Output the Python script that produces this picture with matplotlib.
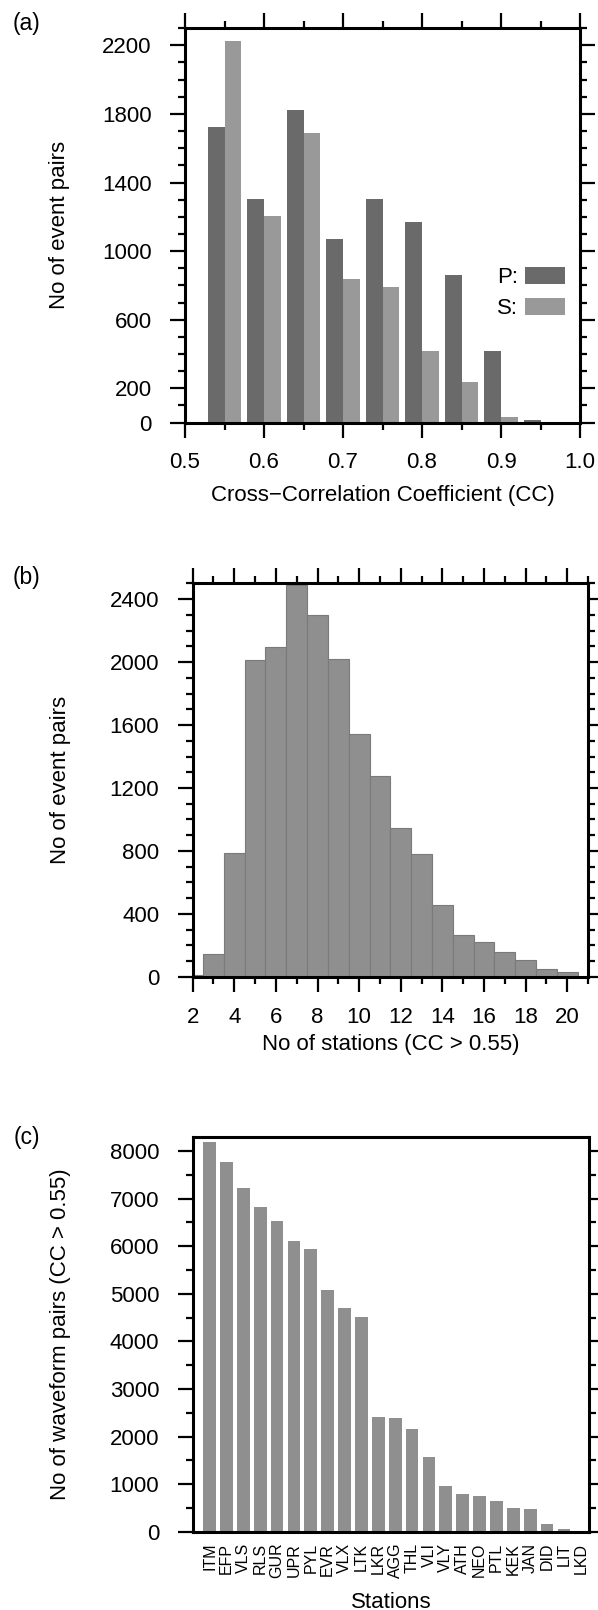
import matplotlib
matplotlib.use("Agg")
import matplotlib.pyplot as plt
from matplotlib.ticker import MultipleLocator, FixedLocator

plt.rcParams["font.family"] = ["Liberation Sans", "DejaVu Sans"]
plt.rcParams["font.size"] = 16

# (a) number of event pairs per CC bin, P and S phases
cc_bins = [0.55, 0.60, 0.65, 0.70, 0.75, 0.80, 0.85, 0.90, 0.95, 1.00]
p_counts = [1725, 1303, 1822, 1070, 1303, 1172, 862, 415, 18, 5]
s_counts = [2227, 1207, 1691, 835, 793, 418, 236, 33, 4, 0]

# (b) event pairs vs number of stations with CC > 0.55
n_stations = list(range(2, 21))
pair_counts = [15, 145, 790, 2010, 2095, 2490, 2300, 2020, 1540, 1275,
               948, 780, 460, 267, 222, 157, 110, 53, 33]

# (c) waveform pairs per station
stations = ["ITM", "EFP", "VLS", "RLS", "GUR", "UPR", "PYL", "EVR", "VLX",
            "LTK", "LKR", "AGG", "THL", "VLI", "VLY", "ATH", "NEO", "PTL",
            "KEK", "JAN", "DID", "LIT", "LKD"]
waveform_pairs = [8200, 7760, 7215, 6830, 6520, 6100, 5940, 5090, 4700,
                  4510, 2420, 2400, 2160, 1570, 960, 785, 752, 645,
                  490, 470, 172, 62, 10]

P_COLOR = "#6a6a6a"
S_COLOR = "#999999"
BAR_COLOR = "#8f8f8f"


def style_axes(ax, top=True):
    for s in ax.spines.values():
        s.set_linewidth(2.2)
    ax.tick_params(which="both", direction="out", width=1.6,
                   top=top, right=True, labelsize=16)
    ax.tick_params(which="major", length=10.5)
    ax.tick_params(which="minor", length=5)
    ax.tick_params(axis="y", pad=13.5)
    ax.tick_params(axis="x", pad=11)


fig = plt.figure(figsize=(5.98, 16.10), dpi=100)

# ---- (a)
ax_a = fig.add_axes([0.3094, 0.7375, 0.6605, 0.2450])
w = 0.021
ax_a.bar([c - w / 2 for c in cc_bins], p_counts, width=w, color=P_COLOR, label="P:")
ax_a.bar([c + w / 2 for c in cc_bins], s_counts, width=w, color=S_COLOR, label="S:")
ax_a.set_xlim(0.5, 1.0)
ax_a.set_ylim(0, 2300)
ax_a.xaxis.set_major_locator(MultipleLocator(0.1))
ax_a.xaxis.set_minor_locator(MultipleLocator(0.05))
ax_a.xaxis.set_major_formatter(plt.FormatStrFormatter("%.1f"))
ax_a.yaxis.set_major_locator(FixedLocator([0, 200, 600, 1000, 1400, 1800, 2200]))
ax_a.yaxis.set_minor_locator(MultipleLocator(100))
style_axes(ax_a)
ax_a.set_xlabel("Cross\u2212Correlation Coefficient (CC)")
ax_a.xaxis.set_label_coords(0.5, -0.158)
ax_a.set_ylabel("No of event pairs")
ax_a.yaxis.set_label_coords(-0.29, 0.5)
ax_a.legend(loc="center right", bbox_to_anchor=(0.962, 0.3276), frameon=False,
            markerfirst=False, handlelength=1.8, handleheight=0.77,
            handletextpad=0.32, labelspacing=0.45, borderpad=0, borderaxespad=0)

# ---- (b)
ax_b = fig.add_axes([0.3222, 0.3932, 0.6610, 0.2445])
ax_b.bar(n_stations, pair_counts, width=1.0, color=BAR_COLOR,
         edgecolor="#7a7a7a", linewidth=0.8)
ax_b.set_xlim(2, 21)
ax_b.set_ylim(0, 2500)
ax_b.xaxis.set_major_locator(MultipleLocator(2))
ax_b.xaxis.set_minor_locator(MultipleLocator(1))
ax_b.yaxis.set_major_locator(MultipleLocator(400))
ax_b.yaxis.set_minor_locator(MultipleLocator(100))
style_axes(ax_b)
ax_b.set_xlabel("No of stations (CC > 0.55)")
ax_b.xaxis.set_label_coords(0.5, -0.145)
ax_b.set_ylabel("No of event pairs")
ax_b.yaxis.set_label_coords(-0.309, 0.5)

# ---- (c)
ax_c = fig.add_axes([0.3222, 0.04863, 0.6632, 0.2453])
x_c = list(range(1, len(stations) + 1))
ax_c.bar(x_c, waveform_pairs, width=0.75, color=BAR_COLOR)
ax_c.set_xlim(0, 23.5)
ax_c.set_ylim(0, 8300)
ax_c.set_xticks(x_c)
ax_c.set_xticklabels(stations, rotation=90)
ax_c.yaxis.set_major_locator(MultipleLocator(1000))
ax_c.yaxis.set_minor_locator(MultipleLocator(500))
style_axes(ax_c, top=False)
ax_c.tick_params(axis="x", which="both", length=0, pad=8, labelsize=11.5)
ax_c.set_xlabel("Stations")
ax_c.xaxis.set_label_coords(0.5, -0.152)
ax_c.set_ylabel("No of waveform pairs (CC > 0.55)")
ax_c.yaxis.set_label_coords(-0.308, 0.5)

for lbl, y in [("(a)", 23.3), ("(b)", 577.5), ("(c)", 1137.5)]:
    fig.text(26.5 / 598, 1 - y / 1610, lbl, ha="center", va="center", fontsize=16.5)

fig.savefig("out.png", dpi=100)
